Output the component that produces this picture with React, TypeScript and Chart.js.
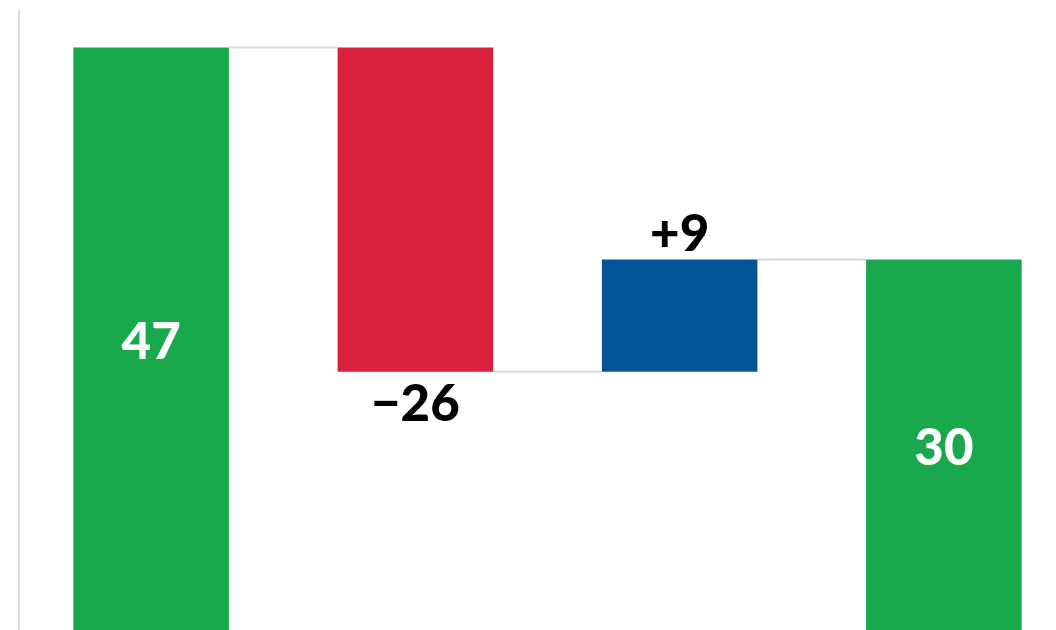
import React, { useEffect, useRef } from "react";
import { Chart, registerables } from "chart.js";

Chart.register(...registerables);

const categories = ["Start", "Decrease", "Increase", "End"];
const values = [47, -26, 9, 30];
const kinds = ["total", "delta", "delta", "total"];
const colors = ["#19A84B", "#D9223C", "#03559A", "#19A84B"];
const yTicks = { min: 0, max: 50 };

const FONT = "Lato, 'Open Sans', sans-serif";

function buildBars() {
  const bars: [number, number][] = [];
  const totals: number[] = [];
  let running = 0;
  values.forEach((v, i) => {
    if (kinds[i] === "total") {
      bars.push([0, v]);
      running = v;
    } else {
      bars.push([running, running + v]);
      running = running + v;
    }
    totals.push(running);
  });
  return { bars, totals };
}

function labelText(i: number) {
  const v = values[i];
  if (kinds[i] === "total") return String(v);
  return v < 0 ? "\u2212" + Math.abs(v) : "+" + v;
}

const connectorPlugin = {
  id: "connectors",
  beforeDatasetsDraw(chart: any) {
    const { ctx, scales } = chart;
    const meta = chart.getDatasetMeta(0);
    const { totals } = buildBars();
    ctx.save();
    ctx.strokeStyle = "#D9D9D9";
    ctx.lineWidth = 2;
    for (let i = 0; i < meta.data.length - 1; i++) {
      const a = meta.data[i];
      const b = meta.data[i + 1];
      const y = scales.y.getPixelForValue(totals[i]);
      ctx.beginPath();
      ctx.moveTo(a.x + a.width / 2, y);
      ctx.lineTo(b.x - b.width / 2, y);
      ctx.stroke();
    }
    ctx.restore();
  },
};

const labelPlugin = {
  id: "waterfallLabels",
  afterDatasetsDraw(chart: any) {
    const { ctx } = chart;
    const meta = chart.getDatasetMeta(0);
    ctx.save();
    ctx.font = `900 51px ${FONT}`;
    ctx.textAlign = "center";
    ctx.textBaseline = "alphabetic";
    meta.data.forEach((bar: any, i: number) => {
      const text = labelText(i);
      const m = ctx.measureText(text);
      const asc = m.actualBoundingBoxAscent;
      const desc = m.actualBoundingBoxDescent;
      const top = Math.min(bar.y, bar.base);
      const bottom = Math.max(bar.y, bar.base);
      let cy: number;
      if (kinds[i] === "total") {
        ctx.fillStyle = "#FFFFFF";
        cy = (top + bottom) / 2;
      } else if (values[i] < 0) {
        ctx.fillStyle = "#000000";
        cy = bottom + 31;
      } else {
        ctx.fillStyle = "#000000";
        cy = top - 27;
      }
      ctx.fillText(text, bar.x, cy + (asc - desc) / 2);
    });
    ctx.restore();
  },
};

export default function App() {
  const ref = useRef<HTMLCanvasElement | null>(null);

  useEffect(() => {
    if (!ref.current) return;
    const { bars } = buildBars();
    const chart = new Chart(ref.current, {
      type: "bar",
      data: {
        labels: categories,
        datasets: [
          {
            data: bars as any,
            backgroundColor: colors,
            borderWidth: 0,
            barPercentage: 0.5886,
            categoryPercentage: 1,
            borderSkipped: false,
          },
        ],
      },
      options: {
        animation: false,
        responsive: false,
        maintainAspectRatio: false,
        devicePixelRatio: 1,
        layout: { padding: { left: 19, right: 0, top: 10, bottom: 6.5 } },
        plugins: {
          legend: { display: false },
          tooltip: { enabled: false },
        },
        scales: {
          x: {
            type: "category",
            display: false,
            offset: true,
            grid: { display: false },
          },
          y: {
            min: yTicks.min,
            max: yTicks.max,
            display: true,
            ticks: { display: false },
            grid: { display: false, drawTicks: false },
            border: { display: true, color: "#D9D9D9", width: 2 },
          },
        },
      },
      plugins: [connectorPlugin, labelPlugin],
    });
    return () => chart.destroy();
  }, []);

  return (
    <div
      style={{
        position: "fixed",
        left: 0,
        top: 0,
        width: 1056,
        height: 630,
        overflow: "hidden",
        background: "#FFFFFF",
      }}
    >
      <canvas ref={ref} width={1076} height={640} style={{ display: "block" }} />
    </div>
  );
}
